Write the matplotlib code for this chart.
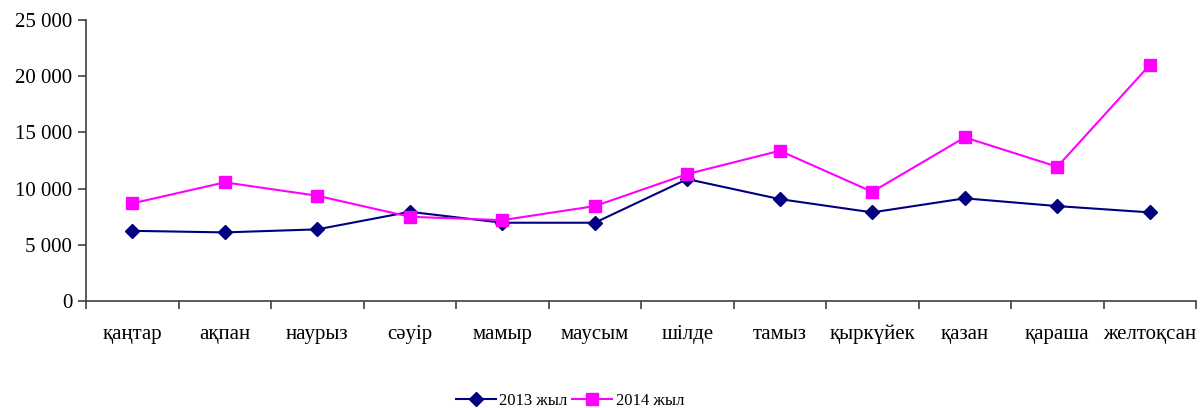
import matplotlib
matplotlib.use("Agg")
import matplotlib.pyplot as plt
from matplotlib.ticker import FuncFormatter, MultipleLocator, FixedLocator
import numpy as np

months = ["қаңтар", "ақпан", "наурыз", "сәуір", "мамыр", "маусым",
          "шілде", "тамыз", "қыркүйек", "қазан", "қараша", "желтоқсан"]
values_2013 = [6250, 6110, 6380, 7940, 6970, 6970, 10850, 9070, 7890, 9140, 8450, 7890]
values_2014 = [8690, 10560, 9370, 7500, 7200, 8450, 11300, 13370, 9720, 14560, 11950, 21000]
series_labels = ["2013 жыл", "2014 жыл"]

plt.rcParams['font.family'] = ['Liberation Serif', 'DejaVu Serif']

fig = plt.figure(figsize=(12, 4.08), dpi=100)
ax = fig.add_axes([0.0717, 0.262, 0.925, 0.689])

x = np.arange(len(months))
ax.plot(x, values_2013, color="#000080", lw=1.5, marker="D", ms=7.5,
        mec="#000080", mfc="#000080", label=series_labels[0])
ax.plot(x, values_2014, color="#FF00FF", lw=1.5, marker="s", ms=8.5,
        mec="#FF00FF", mfc="#FF00FF", label=series_labels[1])

ax.set_xlim(-0.5, len(months) - 0.5)
ax.set_ylim(0, 25000)
ax.yaxis.set_major_locator(MultipleLocator(5000))
ax.yaxis.set_major_formatter(FuncFormatter(
    lambda v, p: f"{int(v):,}".replace(",", " ")))

ax.set_xticks(x)
ax.set_xticklabels(months)
ax.tick_params(axis="x", which="major", length=0, pad=17, labelsize=15)
ax.xaxis.set_minor_locator(FixedLocator(np.arange(-0.5, len(months), 1.0)))
ax.tick_params(axis="x", which="minor", length=6, width=1.2, color="#404040")
ax.tick_params(axis="y", which="major", length=6, width=1.2, color="#404040",
               labelsize=15, pad=4)

for side in ("top", "right"):
    ax.spines[side].set_visible(False)
for side in ("left", "bottom"):
    ax.spines[side].set_color("#404040")
    ax.spines[side].set_linewidth(1.2)

fig.legend(loc="center", bbox_to_anchor=(0.475, 0.018), ncol=2, frameon=False,
           fontsize=12, handlelength=2.4, handletextpad=0.2, columnspacing=0.3,
           borderaxespad=0)

fig.savefig("out.png", dpi=100)
